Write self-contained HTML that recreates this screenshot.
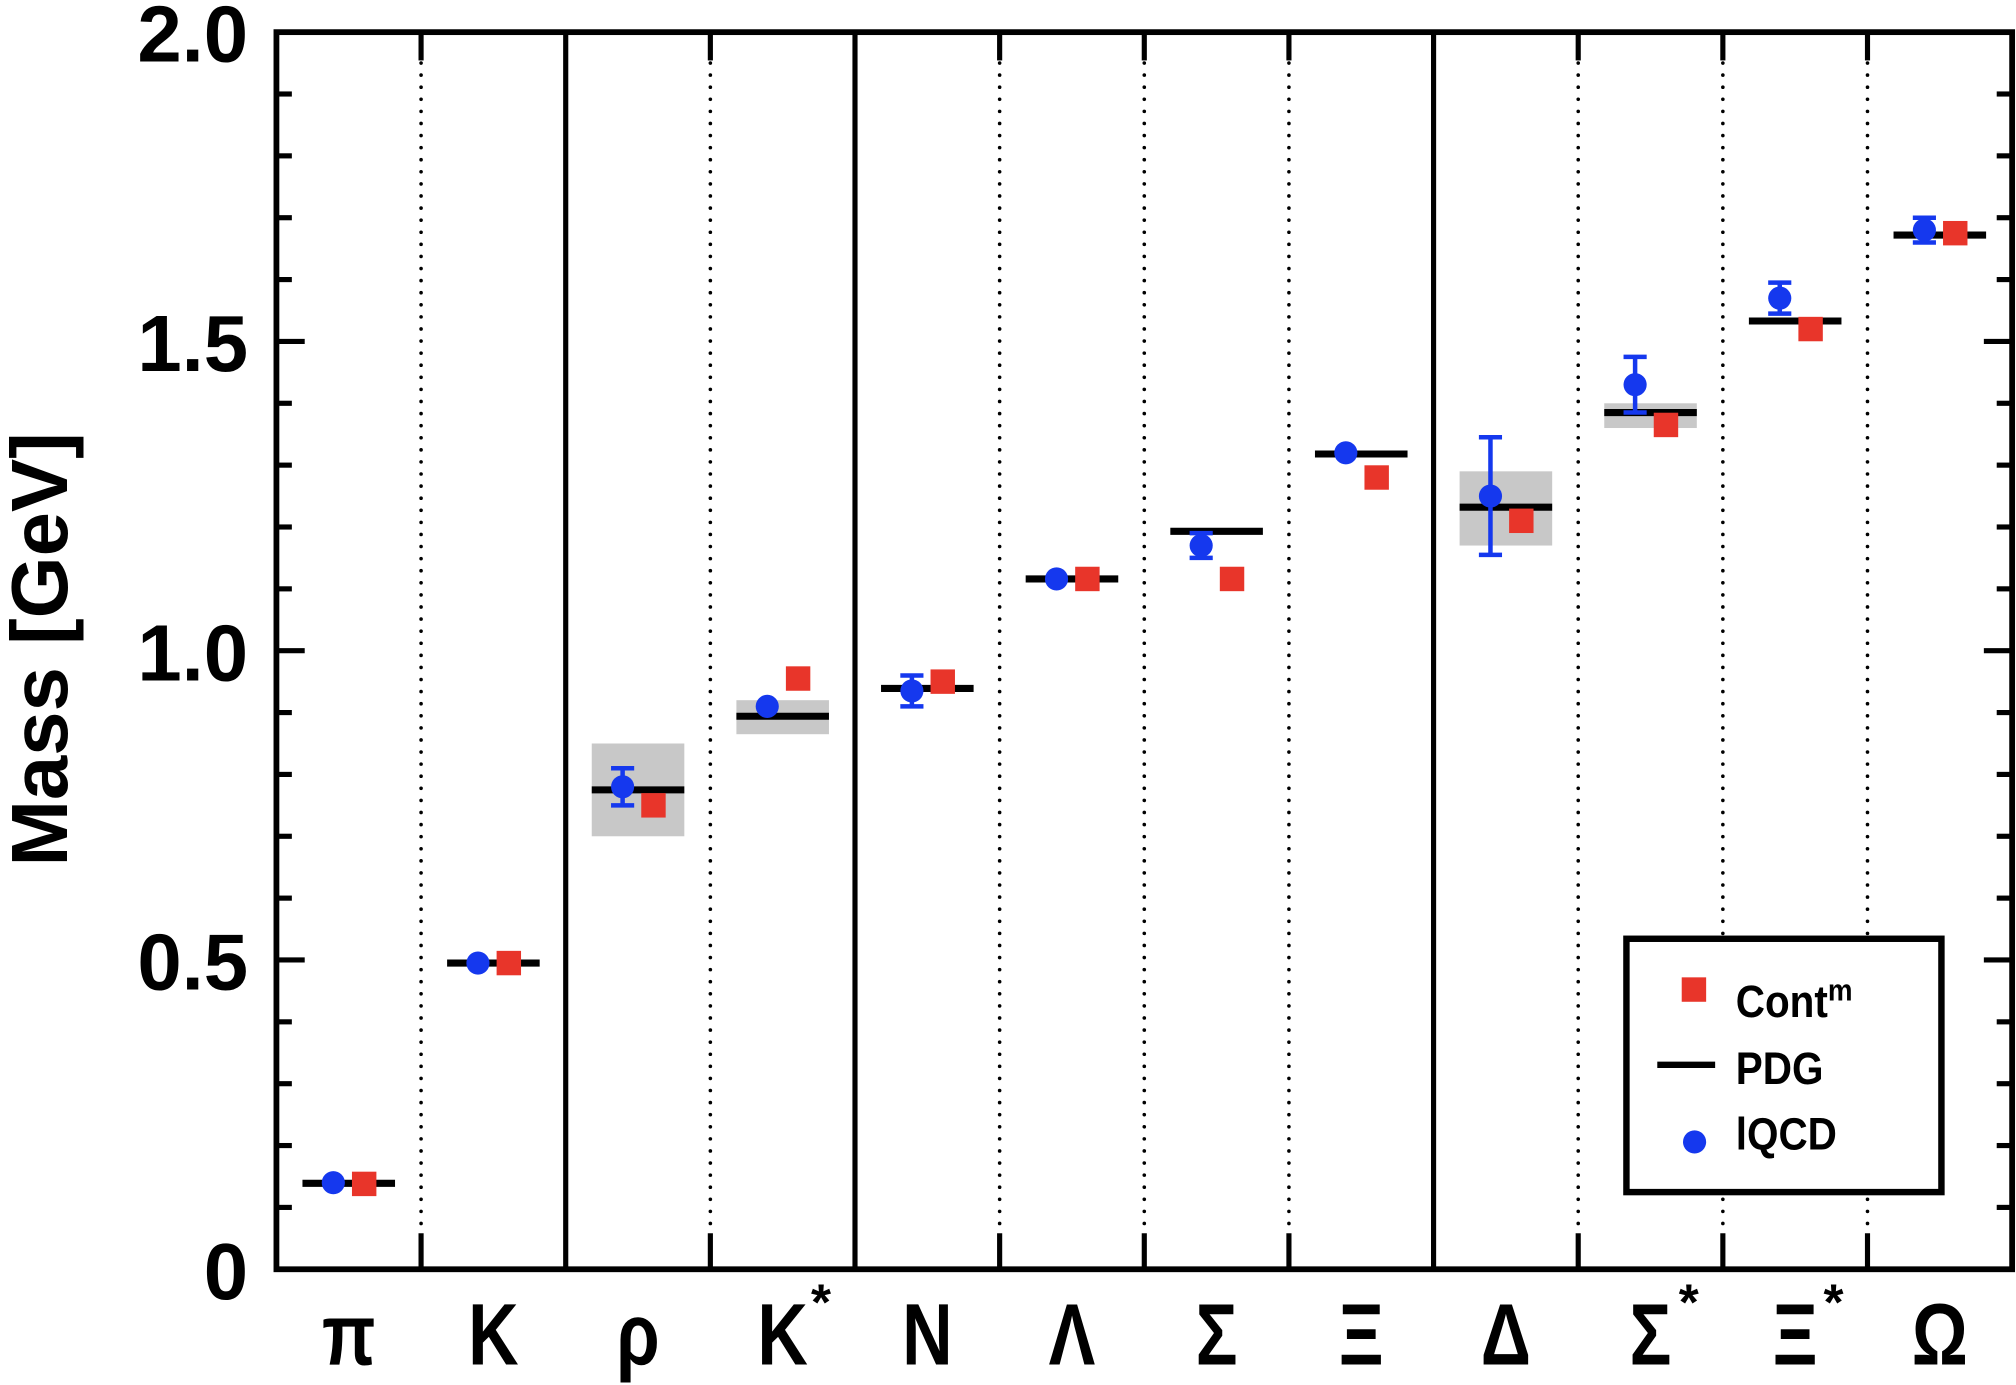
<!DOCTYPE html>
<html><head><meta charset="utf-8"><style>
html,body{margin:0;padding:0;background:#fff;}
svg{display:block;}
text{font-family:"Liberation Sans",sans-serif;font-weight:bold;fill:#000;}
</style></head><body>
<svg id="chart" width="2016" height="1385" viewBox="0 0 1568 1077" preserveAspectRatio="none" xmlns="http://www.w3.org/2000/svg">
<g id="g"></g>
</svg>
<script>
const categories = ["π","K","ρ","K*","N","Λ","Σ","Ξ","Δ","Σ*","Ξ*","Ω"];
const pdgValues = [0.139,0.495,0.775,0.894,0.939,1.116,1.193,1.318,1.232,1.385,1.533,1.672];
const pdgBandLow = [null,null,0.70,0.865,null,null,null,null,1.17,1.36,null,null];
const pdgBandHigh = [null,null,0.85,0.92,null,null,null,null,1.29,1.40,null,null];
const lqcdValues = [0.14,0.495,0.78,0.91,0.935,1.116,1.17,1.32,1.25,1.43,1.57,1.68];
const lqcdErrors = [0,0,0.03,0,0.025,0,0.02,0,0.095,0.045,0.025,0.02];
const contValues = [0.138,0.495,0.75,0.955,0.95,1.116,1.116,1.28,1.21,1.365,1.52,1.675];
const yTickLabels = ["0","0.5","1.0","1.5","2.0"];
const yTickValues = [0,0.5,1.0,1.5,2.0];
const solidSeparators = [2,4,8];

const L=215,R=1565,T=25,B=987;
const cw=(R-L)/categories.length;
const y=v=>B-(v/2.0)*(B-T);
const xc=i=>L+(i+0.5)*cw;
const xb=i=>L+i*cw;
const NS="http://www.w3.org/2000/svg";
const g=document.getElementById('g');
function mk(tag,attrs,parent){const e=document.createElementNS(NS,tag);for(const k in attrs)e.setAttribute(k,attrs[k]);(parent||g).appendChild(e);return e;}

for(let i=1;i<categories.length;i++){
  const x=xb(i);
  if(solidSeparators.includes(i)){
    const ln=mk('line',{x1:x,y1:T,x2:x,y2:B,stroke:'#000','stroke-width':4});
    
    
  } else {
    const d=mk('line',{x1:x,y1:T+24,x2:x,y2:B-26,stroke:'#000','stroke-width':2.8,'stroke-dasharray':'0 9.4','stroke-linecap':'round'});
    
    
    const t1=mk('line',{x1:x,y1:T,x2:x,y2:T+22,stroke:'#000','stroke-width':4});
    
    
    const t2=mk('line',{x1:x,y1:B,x2:x,y2:B-28,stroke:'#000','stroke-width':4});
    
    
  }
}
for(let k=0;k<=20;k++){
  const v=k*0.1, yy=y(v), major=(k%5===0), len=major?22:12;
  const a=mk('line',{x1:L,y1:yy,x2:L+len,y2:yy,stroke:'#000','stroke-width':4});
  
  
  const b=mk('line',{x1:R,y1:yy,x2:R-len,y2:yy,stroke:'#000','stroke-width':4});
  
  
}
yTickValues.forEach((v,i)=>{
  const t=mk('text',{x:193,y:y(v)+23,'font-size':62,'text-anchor':'end'});
  t.textContent=yTickLabels[i];
  
  
});
categories.forEach((c,i)=>{
  const cx=xc(i);
  if(pdgBandLow[i]!==null){
    const bx=mk('rect',{x:cx-36,y:y(pdgBandHigh[i]),width:72,height:y(pdgBandLow[i])-y(pdgBandHigh[i]),fill:'#c8c8c8'});
    
    
  }
  const p=mk('line',{x1:cx-36,y1:y(pdgValues[i]),x2:cx+36,y2:y(pdgValues[i]),stroke:'#000','stroke-width':5.5});
  
  
  const lx=cx-12;
  if(lqcdErrors[i]>0){
    const hi=y(lqcdValues[i]+lqcdErrors[i]), lo=y(lqcdValues[i]-lqcdErrors[i]);
    const eb=mk('path',{d:`M${lx},${hi}V${lo}M${lx-9},${hi}H${lx+9}M${lx-9},${lo}H${lx+9}`,stroke:'#1538ee','stroke-width':3.5,fill:'none'});
    
    
  }
  const sq=mk('rect',{x:cx+12-9.5,y:y(contValues[i])-9.5,width:19,height:19,fill:'#e8352a'});
  
  
  const ci=mk('circle',{cx:lx,cy:y(lqcdValues[i]),r:9,fill:'#1538ee'});
  
  
  const lab=mk('text',{x:0,y:0,'font-size':68,'text-anchor':'middle',transform:`translate(${cx},1061) scale(0.8,1)`});
  lab.textContent=c.replace('*','');
  
  
  if(c.includes('*')){
    const st=mk('text',{x:cx+22,y:1026,'font-size':40});
    st.textContent='*';
    
    
  }
});
const fr=mk('rect',{x:L,y:T,width:R-L,height:B-T,fill:'none',stroke:'#000','stroke-width':4.5});


</script>
<svg style="position:absolute;left:0;top:0" width="2016" height="1385" viewBox="0 0 1568 1077" preserveAspectRatio="none" xmlns="http://www.w3.org/2000/svg">
<text transform="translate(52,505) rotate(-90)" text-anchor="middle" font-size="62">Mass [GeV]</text>
<g>
<rect x="1265" y="730" width="245" height="197" fill="#fff" stroke="#000" stroke-width="5"/>
<rect x="1308" y="760" width="19" height="19" fill="#e8352a"/>
<text x="1350" y="791" font-size="35" transform="translate(1350,0) scale(0.9,1) translate(-1350,0)">Cont<tspan font-size="24" dy="-13">m</tspan></text>
<line x1="1289" y1="828" x2="1334" y2="828" stroke="#000" stroke-width="5"/>
<text x="1350" y="843" font-size="35" transform="translate(1350,0) scale(0.9,1) translate(-1350,0)">PDG</text>
<circle cx="1318" cy="888" r="9" fill="#1538ee"/>
<text x="1350" y="894" font-size="35" transform="translate(1350,0) scale(0.9,1) translate(-1350,0)">lQCD</text>
</g>
</svg>
</body></html>
